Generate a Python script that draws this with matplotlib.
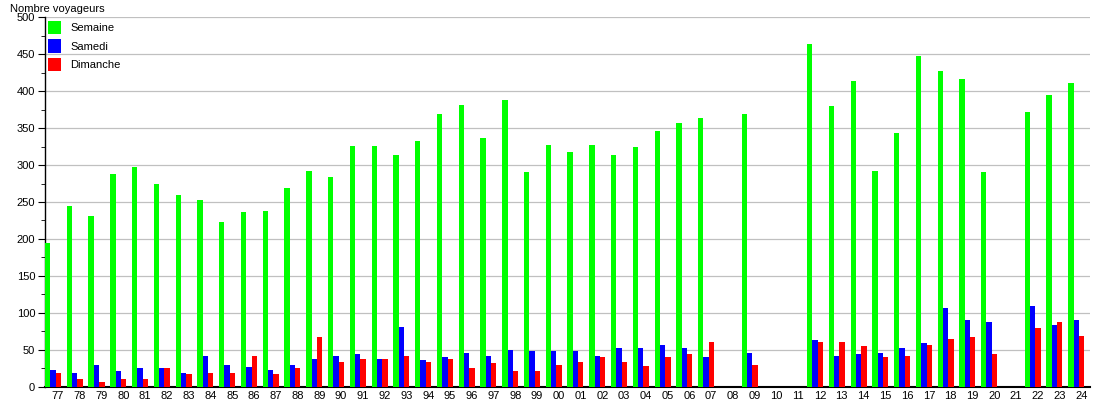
import matplotlib.pyplot as plt
import numpy as np

plt.rcParams['font.family'] = ['Liberation Sans', 'DejaVu Sans']

nan = np.nan
years = ['77', '78', '79', '80', '81', '82', '83', '84', '85', '86',
         '87', '88', '89', '90', '91', '92', '93', '94', '95', '96',
         '97', '98', '99', '00', '01', '02', '03', '04', '05', '06',
         '07', '08', '09', '10', '11', '12', '13', '14', '15', '16',
         '17', '18', '19', '20', '21', '22', '23', '24']

# weekday / saturday / sunday passengers
semaine = [195, 244, 231, 288, 298, 275, 259, 253, 223, 236,
           238, 269, 292, 284, 326, 326, 314, 333, 369, 381,
           336, 388, 290, 327, 318, 327, 313, 325, 346, 357,
           363, nan, 369, nan, nan, 464, 380, 414, 292, 344,
           448, 427, 417, 290, nan, 372, 395, 411]
samedi = [23, 19, 30, 22, 26, 26, 19, 42, 29, 27,
          23, 30, 37, 41, 44, 38, 81, 36, 40, 46,
          42, 50, 48, 48, 48, 42, 53, 53, 57, 53,
          40, nan, 46, nan, nan, 63, 42, 44, 46, 52,
          59, 106, 90, 88, nan, 109, 83, 91]
dimanche = [18, 10, 7, 11, 10, 26, 17, 18, 19, 42,
            17, 26, 67, 34, 37, 38, 42, 34, 37, 26,
            32, 22, 22, 30, 34, 40, 33, 28, 40, 44,
            60, nan, 30, nan, nan, 61, 60, 55, 40, 42,
            57, 65, 68, 45, nan, 80, 87, 69]

fig = plt.figure(figsize=(11.1, 4), dpi=100)
ax = fig.add_axes([0.0405, 0.033, 0.9415, 0.924])

x = np.arange(len(years))
w = 0.245
ax.bar(x, semaine, w, align='edge', color='#00ff00', label='Semaine', zorder=3)
ax.bar(x + w, samedi, w, align='edge', color='#0000ff', label='Samedi', zorder=3)
ax.bar(x + 2 * w, dimanche, w, align='edge', color='#ff0000', label='Dimanche', zorder=3)

ax.set_xlim(0, len(years))
ax.set_ylim(0, 500)
ax.set_xticks(x + 0.6)
ax.set_xticklabels(years, fontsize=8)
ax.tick_params(axis='x', length=0, pad=3)
ax.set_yticks(np.arange(0, 501, 50))
ax.set_yticks(np.arange(25, 500, 50), minor=True)
ax.tick_params(axis='y', which='major', length=5, labelsize=8, pad=2)
ax.tick_params(axis='y', which='minor', length=3)
ax.yaxis.grid(True, color='#c0c0c0', linewidth=0.9)
ax.set_axisbelow(True)
for s in ['top', 'right']:
    ax.spines[s].set_visible(False)
ax.spines['left'].set_linewidth(1)
ax.spines['bottom'].set_linewidth(1.5)

fig.text(0.009, 0.978, 'Nombre voyageurs', fontsize=8, va='center', ha='left')

ax.legend(loc='upper left', frameon=False, fontsize=8, handlelength=1.1,
          handleheight=1.5, handletextpad=0.9, labelspacing=0.45,
          borderaxespad=0.1, borderpad=0.2)

fig.savefig('out.png', dpi=100)
